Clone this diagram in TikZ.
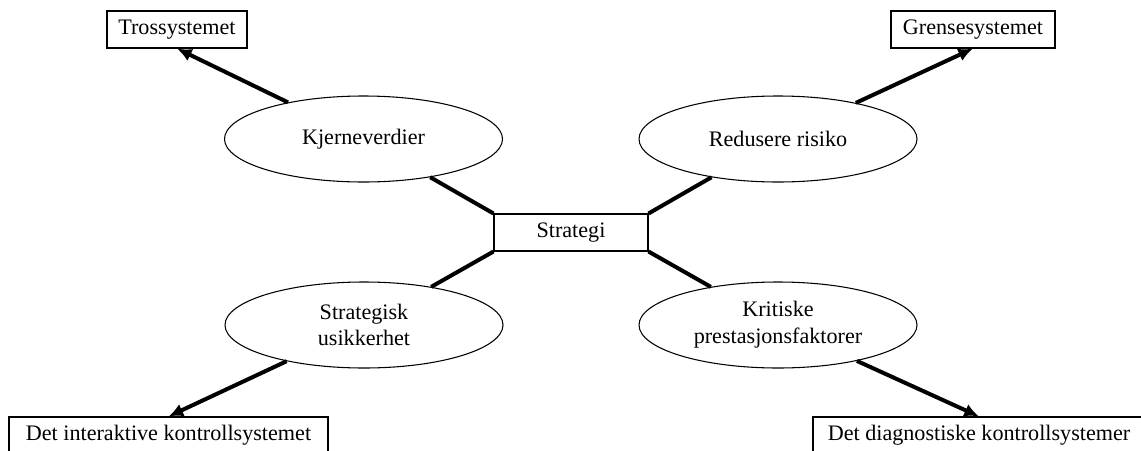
\documentclass[tikz,border=0pt]{standalone}
\usepackage{fontspec}
\setmainfont{Liberation Serif}
\usepackage{tikz}
\usetikzlibrary{arrows.meta}
\usetikzlibrary{shapes.geometric}
\tikzset{tekst/.style = {font=\fontsize{16.6}{20}\selectfont, align=center},
         boks/.style = {tekst, draw, line width=0.8pt, minimum height=27.75pt, inner sep=0pt},
         verdi/.style = {tekst, ellipse, draw, line width=0.8pt, minimum width=208.5pt,
                         minimum height=64.5pt, inner sep=0pt},
         kobling/.style = {line width=3pt},
         pil/.style = {line width=3pt, -{Latex[length=11pt,width=10pt]}}}

\begin{document}
\begin{tikzpicture}[x=0.75pt, y=-0.75pt]
      \clip (0, 0) rectangle (1141, 450);

      \node [boks, minimum width=115.5pt] (strategi) at (571, 232.5) {Strategi};

      \node [verdi] (kjerne) at (363.5, 139) {Kjerneverdier};
      \node [verdi] (risiko) at (778, 139) {Redusere risiko};
      \node [verdi] (usikker) at (364, 325) {Strategisk\\usikkerhet};
      \node [verdi] (kritisk) at (778, 325) {Kritiske\\prestasjonsfaktorer};

      \node [boks, minimum width=105pt] (tros) at (177, 29.5) {Trossystemet};
      \node [boks, minimum width=123pt] (grense) at (973, 29.5) {Grensesystemet};
      \node [boks, minimum width=239.25pt] (interaktiv) at (168.5, 435.5) {Det interaktive kontrollsystemet};
      \node [boks, minimum width=249pt] (diagnostisk) at (979, 435.5) {Det diagnostiske kontrollsystemer};

      \draw [kobling] (kjerne) -- (strategi.north west);
      \draw [kobling] (risiko) -- (strategi.north east);
      \draw [kobling] (usikker) -- (strategi.south west);
      \draw [kobling] (kritisk) -- (strategi.south east);

      \draw [pil] (kjerne) -- (tros.south);
      \draw [pil] (risiko) -- (grense.south);
      \draw [pil] (usikker) -- (interaktiv.north);
      \draw [pil] (kritisk) -- (diagnostisk.north);
    \end{tikzpicture}
\end{document}
